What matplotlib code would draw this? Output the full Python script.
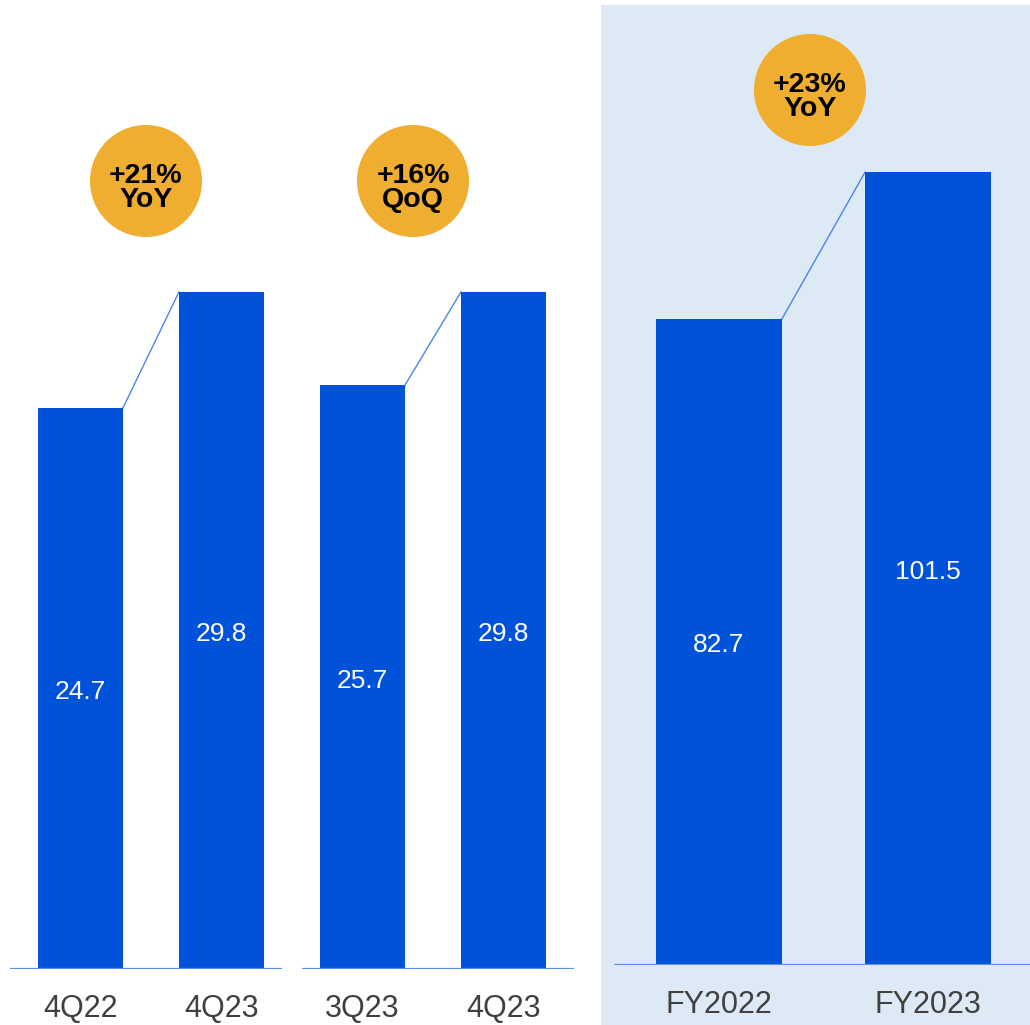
import matplotlib.pyplot as plt
from matplotlib.patches import Rectangle, Ellipse

plt.rcParams['font.family'] = ['Liberation Sans', 'DejaVu Sans']

# Revenue figures per period
q_yoy_labels = ['4Q22', '4Q23']
q_yoy_values = [24.7, 29.8]
q_qoq_labels = ['3Q23', '4Q23']
q_qoq_values = [25.7, 29.8]
fy_labels = ['FY2022', 'FY2023']
fy_values = [82.7, 101.5]
badges = ['+21%\nYoY', '+16%\nQoQ', '+23%\nYoY']

BAR = '#0052d9'
LINK = '#4f84e6'
BASE = '#5b8fe8'
GOLD = '#f0ae31'
PANEL = '#dde9f5'
LABEL = '#404040'

W, H = 1030, 1025
fig = plt.figure(figsize=(W / 100, H / 100), dpi=100)


def px_axes(x0, x1, y_top, y_base):
    # axes placed by pixel edges (y measured from the top of the figure)
    return fig.add_axes([x0 / W, (H - y_base) / H, (x1 - x0) / W, (y_base - y_top) / H])


# shaded full-year panel
fig.add_artist(Rectangle((601 / W, 0), (W - 601) / W, (H - 5) / H,
                         transform=fig.transFigure, facecolor=PANEL,
                         edgecolor='none', zorder=0))

panels = [
    (q_yoy_labels, q_yoy_values, (10, 282, 0, 969), (-0.5, 1.429), 42.65, 40),
    (q_qoq_labels, q_qoq_values, (302, 574, 0, 969), (-0.429, 1.50), 42.65, 40),
    (fy_labels, fy_values, (614, 1030, 5, 965), (-0.5, 1.486), 122.9, 40),
]
width = 0.603

for labels, values, box, xlim, ytop, lab_off in panels:
    ax = px_axes(*box)
    ax.set_facecolor('none')
    x = range(len(values))
    ax.bar(x, values, width=width, color=BAR, zorder=2)
    ax.plot([0 + width / 2, 1 - width / 2], values, color=LINK, lw=1, zorder=1)
    ax.axhline(0, color=BASE, lw=1.6, zorder=3)
    for i, v in enumerate(values):
        ax.annotate(f'{v}', xy=(i, v / 2), xytext=(0, -2.5),
                    textcoords='offset points', color='white', fontsize=19,
                    ha='center', va='center', zorder=4)
        ax.annotate(labels[i], xy=(i, 0), xytext=(0, -lab_off * 0.72),
                    textcoords='offset points', ha='center', va='center',
                    fontsize=22, color=LABEL, annotation_clip=False)
    ax.set_xlim(*xlim)
    ax.set_ylim(0, ytop)
    ax.axis('off')

# growth badges
for (cx, cy), text in zip([(146, 181), (413, 181), (810, 90)], badges):
    fig.add_artist(Ellipse((cx / W, 1 - cy / H), 112 / W, 112 / H,
                           transform=fig.transFigure, facecolor=GOLD,
                           edgecolor='none', zorder=5))
    fig.text(cx / W, 1 - (cy + 7) / H, text, ha='center', va='center',
             fontsize=20.5, fontweight='bold', linespacing=0.92, zorder=6)

fig.savefig('out.png', dpi=100)
